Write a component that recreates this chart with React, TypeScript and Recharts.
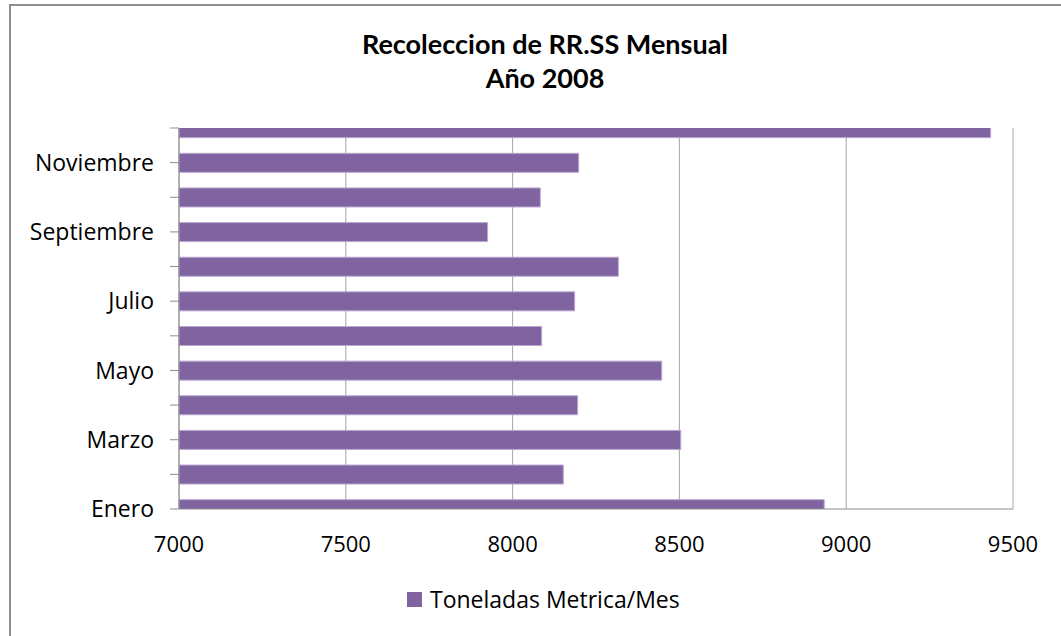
import { BarChart, Bar, XAxis, YAxis, CartesianGrid } from "recharts";

const meses = [
  "Enero",
  "Febrero",
  "Marzo",
  "Abril",
  "Mayo",
  "Junio",
  "Julio",
  "Agosto",
  "Septiembre",
  "Octubre",
  "Noviembre",
  "Diciembre",
];
const toneladas = [8934, 8152, 8504, 8195, 8447, 8087, 8186, 8317, 7925, 8083, 8198, 9433];
const xTicks = [7000, 7500, 8000, 8500, 9000, 9500];

const FONT = "'Open Sans', sans-serif";
const TITLE_FONT = "Lato, 'Open Sans', sans-serif";

export default function App() {
  const chartData = meses.map((mes, i) => ({ idx: i, mes, toneladas: toneladas[i] }));
  const yTicks = meses.map((_, i) => i);

  return (
    <div
      style={{
        position: "absolute",
        left: 0,
        top: 0,
        width: 1061,
        height: 636,
        overflow: "hidden",
        background: "#fff",
        fontFamily: FONT,
      }}
    >
      <div
        style={{
          position: "absolute",
          left: 9,
          top: 4,
          width: 1200,
          height: 800,
          border: "2px solid #8e8e8e",
        }}
      />
      <div
        style={{
          position: "absolute",
          left: 0,
          width: 1090,
          top: 27,
          textAlign: "center",
          fontFamily: TITLE_FONT,
          fontWeight: 700,
          fontSize: 27,
          lineHeight: "34px",
          color: "#000",
        }}
      >
        <div>Recoleccion de RR.SS Mensual</div>
        <div>Año 2008</div>
      </div>

      <div style={{ position: "absolute", left: 0, top: 0 }}>
        <BarChart
          width={1061}
          height={636}
          data={chartData}
          layout="vertical"
          margin={{ top: 128, right: 48, bottom: 87, left: 9 }}
        >
          <CartesianGrid horizontal={false} stroke="#a6a6a6" />
          <XAxis
            type="number"
            domain={[7000, 9500]}
            ticks={xTicks}
            interval={0}
            height={40}
            tickLine={false}
            tickSize={6}
            tickMargin={21}
            axisLine={{ stroke: "#8c8c8c" }}
            tick={{ fontSize: 22, fill: "#000", fontFamily: FONT }}
          />
          <YAxis
            type="number"
            dataKey="idx"
            domain={[0, 11]}
            ticks={yTicks}
            interval={0}
            reversed
            allowDataOverflow
            width={170}
            tickSize={9}
            tickMargin={16}
            tickLine={{ stroke: "#8c8c8c" }}
            axisLine={{ stroke: "#8c8c8c" }}
            tickFormatter={(i: number) => (i % 2 === 0 ? meses[i] : "")}
            tick={{ fontSize: 23, fill: "#000", fontFamily: FONT }}
          />
          <Bar
            dataKey="toneladas"
            fill="#8064a2"
            stroke="#b9a8cf"
            strokeWidth={1}
            barSize={19}
            isAnimationActive={false}
          />
        </BarChart>
      </div>

      <div
        style={{
          position: "absolute",
          left: 407,
          top: 583,
          display: "flex",
          alignItems: "center",
          fontSize: 23,
          color: "#000",
        }}
      >
        <span
          style={{
            display: "inline-block",
            width: 15,
            height: 15,
            background: "#8064a2",
            marginRight: 8,
          }}
        />
        <span>Toneladas Metrica/Mes</span>
      </div>
    </div>
  );
}
